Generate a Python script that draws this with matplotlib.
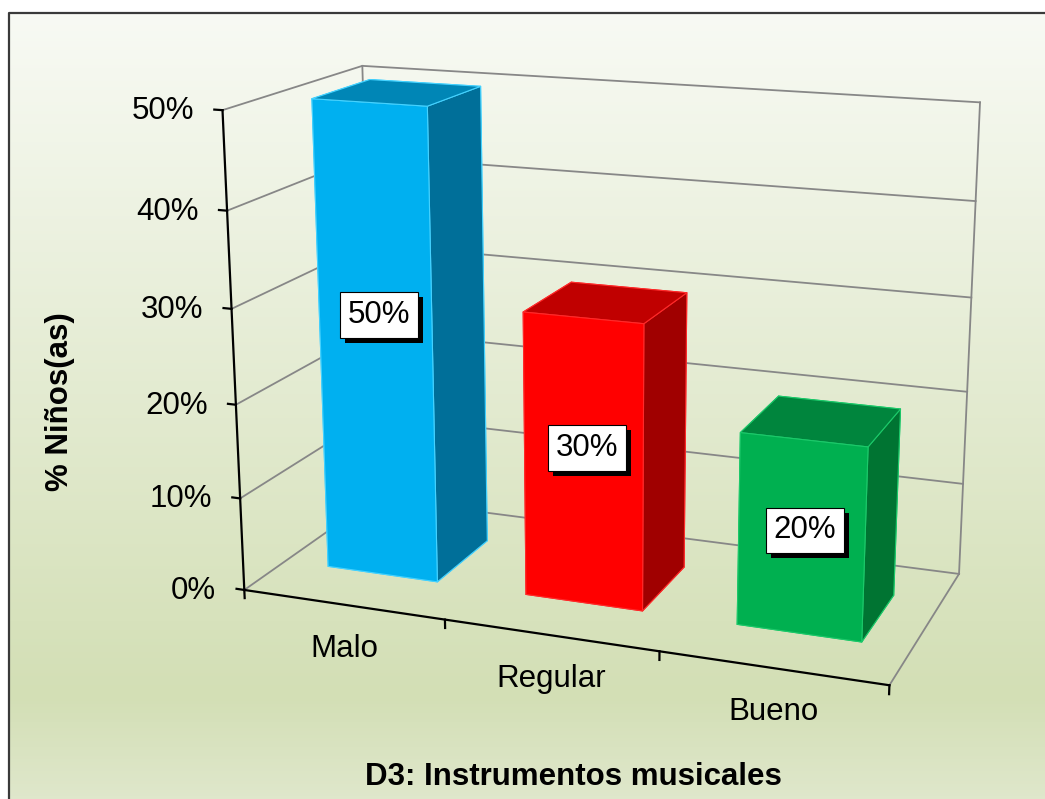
import numpy as np
import matplotlib.pyplot as plt
from matplotlib import patheffects
from matplotlib.colors import LinearSegmentedColormap
from mpl_toolkits.mplot3d import proj3d

# data
categories = ['Malo', 'Regular', 'Bueno']
values = [0.50, 0.30, 0.20]
value_labels = ['50%', '30%', '20%']
z_ticks = [0.0, 0.1, 0.2, 0.3, 0.4, 0.5]
z_tick_labels = ['0%', '10%', '20%', '30%', '40%', '50%']

front_colors = ['#00B0F0', '#FF0000', '#00B050']
top_colors = ['#0086B6', '#C00000', '#00853D']
side_colors = ['#006F99', '#A00000', '#007432']
edge_colors = ['#45D2FF', '#FF2A2A', '#1CC96A']

plt.rcParams['font.family'] = ['Liberation Sans', 'DejaVu Sans']
FS = 22.5

fig = plt.figure(figsize=(10.45, 7.99), dpi=100)

# background: gradient chart area + frame
bg = fig.add_axes([0, 0, 1, 1])
grad_cmap = LinearSegmentedColormap.from_list(
    'bg', [(0, '#F8FAF4'), (0.87, '#D3DFB5'), (1, '#DFE7CB')])
bg.imshow(np.linspace(0, 1, 256).reshape(-1, 1), cmap=grad_cmap,
          extent=(9, 1045, 799, 13), aspect='auto')
bg.plot([9, 9, 1045], [799, 13, 13], color='#3a3a3a', lw=1.6)
bg.set_xlim(0, 1045)
bg.set_ylim(799, 0)
bg.axis('off')

# 3d chart
depth = 1.34
ax = fig.add_axes([0.1558, 0.0074, 0.8239, 1.0776], projection='3d',
                  computed_zorder=False)
ax.set_proj_type('persp', focal_length=0.494)
ax.view_init(elev=15.7, azim=-69.4, roll=0)
ax.set_box_aspect((0.2759, 0.1234, 0.2025))
ax.set_xlim(0, len(categories))
ax.set_ylim(0, depth)
ax.set_zlim(0, z_ticks[-1])
ax.set_axis_off()
ax.set_facecolor((0, 0, 0, 0))

M = ax.get_proj()

def label3d(x, y, z, s, dx, dy, **kw):
    # text at a projected 3d point, shifted by some pixels
    px, py, _ = proj3d.proj_transform(x, y, z, M)
    return ax.annotate(s, (px, py), xycoords='data', xytext=(dx, dy),
                       textcoords='offset pixels', annotation_clip=False, **kw)

ncat = len(categories)
grid = dict(color='#878787', lw=1.3, zorder=1)
for z in z_ticks:
    ax.plot([0, 0, ncat], [0, depth, depth], [z, z, z], **grid)
ax.plot([0, 0], [depth, depth], [0, z_ticks[-1]], **grid)
ax.plot([ncat, ncat], [depth, depth], [0, z_ticks[-1]], **grid)
ax.plot([ncat, ncat], [0, depth], [0, 0], **grid)

# bars
for i, v in enumerate(values):
    ax.bar3d(i + 0.22, 0.40, 0, 0.56, 0.575, v,
             color=[side_colors[i], top_colors[i], front_colors[i],
                    side_colors[i], side_colors[i], side_colors[i]],
             shade=False, edgecolor=edge_colors[i], linewidth=0.8, zorder=3)

# axes lines and ticks
axis = dict(color='black', lw=1.6, zorder=4)
ax.plot([0, 0], [0, 0], [0, z_ticks[-1]], **axis)
ax.plot([0, ncat], [0, 0], [0, 0], **axis)
for z, lab in zip(z_ticks, z_tick_labels):
    ax.plot([-0.04, 0], [0, 0], [z, z], **axis)
    label3d(0, 0, z, lab, -28, -1, ha='right', va='center', fontsize=FS, zorder=5)
for k in range(ncat + 1):
    ax.plot([k, k], [0, 0], [0, -0.009], **axis)
for i, c in enumerate(categories):
    label3d(i + 0.5, 0, 0, c, 1, -29, ha='center', va='top', fontsize=FS, zorder=5)

# value labels
for i, (v, lab) in enumerate(zip(values, value_labels)):
    t = label3d(i + 0.5, 0.40, 0.58 * v - 0.019, lab, 4, 10, ha='center', va='center',
                fontsize=FS, zorder=6,
                bbox=dict(boxstyle='square,pad=0.25', fc='white', ec='black', lw=0.8))
    t.get_bbox_patch().set_path_effects(
        [patheffects.withSimplePatchShadow(offset=(3.6, -3.6), shadow_rgbFace='black', alpha=1.0)])

fig.text(60 / 1045, 1 - 402 / 799, '% Niños(as)', rotation=90, ha='center', va='center',
         fontsize=FS, fontweight='bold')
fig.text(573 / 1045, 1 - 785 / 799, 'D3: Instrumentos musicales', ha='center', va='baseline',
         fontsize=FS, fontweight='bold')

fig.savefig('out.png', dpi=100)
